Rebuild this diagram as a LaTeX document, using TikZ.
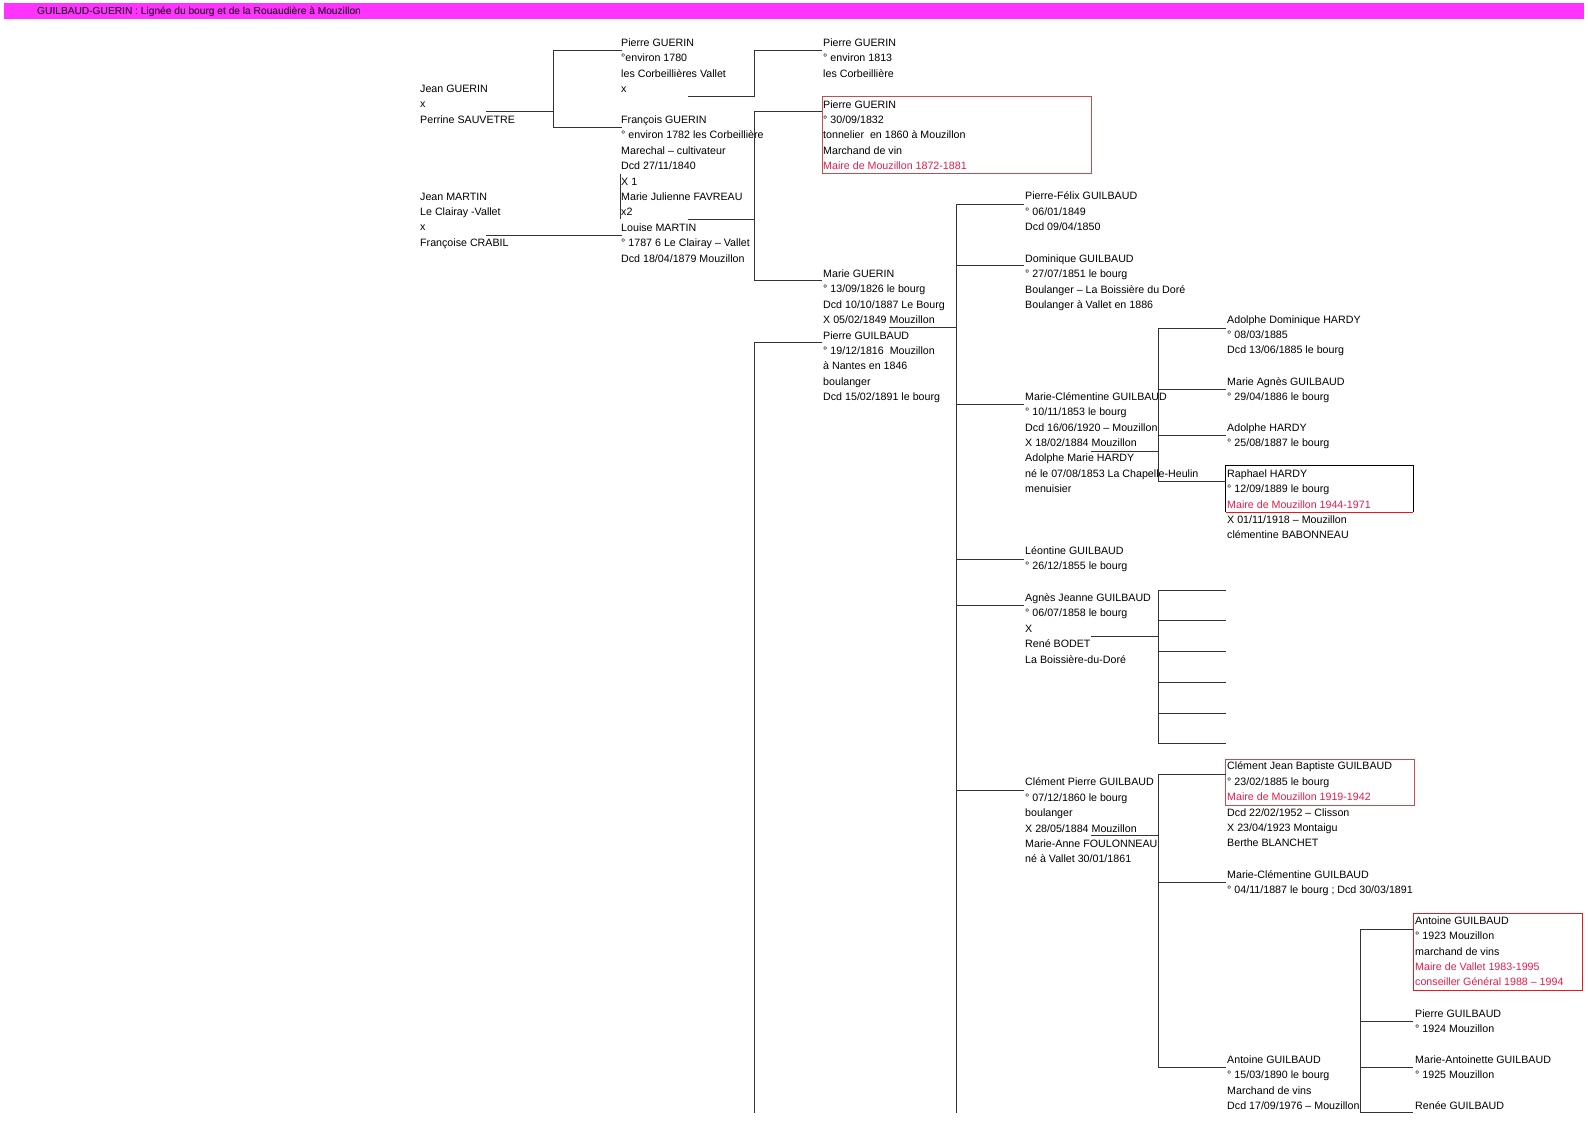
\documentclass[tikz,border=0pt]{standalone}
\usepackage{fontspec}
\setmainfont{Liberation Sans}
\definecolor{mag}{RGB}{255,51,255}
\definecolor{redtxt}{RGB}{225,30,75}
\definecolor{boxred}{RGB}{192,80,80}
\definecolor{brightred}{RGB}{240,20,30}
\newcommand\hst{\rule{0pt}{11pt}}
\newcommand\rt[1]{\textcolor{redtxt}{#1}}
\begin{document}
\begin{tikzpicture}[x=1pt,y=-1pt,
  person/.style={anchor=north west,inner sep=0pt,align=left,font=\fontsize{10.67}{15.4}\selectfont},
  link/.style={draw=black!80,line width=1pt},
  redbox/.style={draw=boxred,line width=1pt},
  brightbox/.style={draw=brightred,line width=1pt}]
\useasboundingbox (0,0) rectangle (1588,1123);
\fill[white] (0,0) rectangle (1588,1123);
% title bar
\fill[mag] (4,3) rectangle (1584,19);
\node[anchor=base west,inner sep=0pt,font=\fontsize{10.2}{12}\selectfont] (title) at (37,15) {GUILBAUD-GUERIN : Lignée du bourg et de la Rouaudière à Mouzillon};

% ---------- generation 1
\node[person] (jg) at (420,81.3) {\hst Jean GUERIN\\x\\Perrine SAUVETRE};
\node[person] (jm) at (420,189) {\hst Jean MARTIN\\Le Clairay -Vallet\\x\\Françoise CRABIL};

% ---------- generation 2
\node[person] (pg1780) at (621,35.3) {\hst Pierre GUERIN\\°environ 1780\\les Corbeillières Vallet\\x};
\node[person] (fg) at (621,112.3) {\hst François GUERIN\\° environ 1782 les Corbeillière\\Marechal – cultivateur\\Dcd 27/11/1840\\X 1\\Marie Julienne FAVREAU\\x2\\Louise MARTIN\\° 1787 6 Le Clairay – Vallet\\Dcd 18/04/1879 Mouzillon};

% ---------- generation 3
\node[person] (pg1813) at (823,35.3) {\hst Pierre GUERIN\\° environ 1813\\les Corbeillière};
\node[person] (pg1832) at (823,97) {\hst Pierre GUERIN\\° 30/09/1832\\tonnelier\ \ en 1860 à Mouzillon\\Marchand de vin\\\rt{Maire de Mouzillon 1872-1881}};
\draw[redbox] (822,96.7) rectangle (1091.7,174);
\node[person] (mg) at (823,266.3) {\hst Marie GUERIN\\° 13/09/1826 le bourg\\Dcd 10/10/1887 Le Bourg\\X 05/02/1849 Mouzillon\\Pierre GUILBAUD\\° 19/12/1816\ \ Mouzillon\\à Nantes en 1846\\boulanger\\Dcd 15/02/1891 le bourg};

% ---------- generation 4
\node[person] (pfg) at (1025,188.7) {\hst Pierre-Félix GUILBAUD\\° 06/01/1849\\Dcd 09/04/1850};
\node[person] (dg) at (1025,251.3) {\hst Dominique GUILBAUD\\° 27/07/1851 le bourg\\Boulanger – La Boissière du Doré\\Boulanger à Vallet en 1886};
\node[person] (mcg) at (1025,389) {\hst Marie-Clémentine GUILBAUD\\° 10/11/1853 le bourg\\Dcd 16/06/1920 – Mouzillon\\X 18/02/1884 Mouzillon\\Adolphe Marie HARDY\\né le 07/08/1853 La Chapelle-Heulin\\menuisier};
\node[person] (lg) at (1025,543) {\hst Léontine GUILBAUD\\° 26/12/1855 le bourg};
\node[person] (ajg) at (1025,590.3) {\hst Agnès Jeanne GUILBAUD\\° 06/07/1858 le bourg\\X\\René BODET\\La Boissière-du-Doré};
\node[person] (cpg) at (1025,774.7) {\hst Clément Pierre GUILBAUD\\° 07/12/1860 le bourg\\boulanger\\X 28/05/1884 Mouzillon\\Marie-Anne FOULONNEAU\\né à Vallet 30/01/1861};

% ---------- generation 5
\node[person] (adh) at (1227,312) {\hst Adolphe Dominique HARDY\\° 08/03/1885\\Dcd 13/06/1885 le bourg};
\node[person] (mag) at (1227,374) {\hst Marie Agnès GUILBAUD\\° 29/04/1886 le bourg};
\node[person] (ah) at (1227,420) {\hst Adolphe HARDY\\° 25/08/1887 le bourg};
\node[person] (rh) at (1227,466) {\hst Raphael HARDY\\° 12/09/1889 le bourg\\\rt{Maire de Mouzillon 1944-1971}\\X 01/11/1918 – Mouzillon\\clémentine BABONNEAU};
\draw[line width=1pt,black] (1225.7,512.3) -- (1225.7,465.7) -- (1413.3,465.7) -- (1413.3,512.3);
\draw[line width=1pt,brightred] (1225.7,512.3) -- (1413.3,512.3);
\node[person] (cjb) at (1227,758.7) {\hst Clément Jean Baptiste GUILBAUD\\° 23/02/1885 le bourg\\\rt{Maire de Mouzillon 1919-1942}\\Dcd 22/02/1952 – Clisson\\X 23/04/1923 Montaigu\\Berthe BLANCHET};
\draw[redbox] (1225.7,759) rectangle (1414.3,805);
\node[person] (mcg2) at (1227,867.3) {\hst Marie-Clémentine GUILBAUD\\° 04/11/1887 le bourg ; Dcd 30/03/1891};
\node[person] (ag1890) at (1227,1052.3) {\hst Antoine GUILBAUD\\° 15/03/1890 le bourg\\Marchand de vins\\Dcd 17/09/1976 – Mouzillon};

% ---------- generation 6
\node[person] (ag1923) at (1415,913) {\hst Antoine GUILBAUD\\° 1923 Mouzillon\\marchand de vins\\\rt{Maire de Vallet 1983-1995}\\\rt{conseiller Général 1988 – 1994}};
\draw[brightbox] (1413.3,913.3) rectangle (1582,990);
\node[person] (pg1924) at (1415,1006.3) {\hst Pierre GUILBAUD\\° 1924 Mouzillon};
\node[person] (mag1925) at (1415,1052.3) {\hst Marie-Antoinette GUILBAUD\\° 1925 Mouzillon};
\node[person] (rg) at (1415,1098) {\hst Renée GUILBAUD};

% ---------- connectors: Jean GUERIN x Perrine SAUVETRE
\coordinate (jgM) at (486,111.7);
\coordinate (jgS) at (553,111.7);
\coordinate (jgT) at (553,50.7);
\coordinate (jgB) at (553,127.3);
\coordinate (pg1780L) at (622,50.7);
\coordinate (fgL) at (622,127.3);
\draw[link] (jgM) -- (jgS);
\draw[link] (pg1780L) -- (jgT) -- (jgB) -- (fgL);

% Jean MARTIN x Françoise CRABIL
\coordinate (jmM) at (486,235.7);
\coordinate (lmL) at (622,235.7);
\draw[link] (jmM) -- (lmL);

% Pierre GUERIN (1780) -> Pierre GUERIN (1813)
\coordinate (p80M) at (687.7,96.3);
\coordinate (p80S) at (754.3,96.3);
\coordinate (p80T) at (754.3,50.7);
\coordinate (p13L) at (822,50.7);
\draw[link] (p80M) -- (p80S) -- (p80T) -- (p13L);

% François GUERIN -> children
\coordinate (fgX) at (620,174);
\coordinate (fgY) at (620,219.3);
\draw[link] (fgX) -- (fgY);
\coordinate (fgM) at (687.7,220);
\coordinate (fgS) at (754.3,220);
\coordinate (fgT) at (754.3,111.7);
\coordinate (fgB) at (754.3,280.7);
\coordinate (p32L) at (822,111.7);
\coordinate (mgL) at (822,280.7);
\draw[link] (fgM) -- (fgS);
\draw[link] (p32L) -- (fgT) -- (fgB) -- (mgL);

% Pierre GUILBAUD ancestry line
\coordinate (pgbL) at (822,342.7);
\coordinate (pgbS) at (754.3,342.7);
\coordinate (pgbB) at (754.3,1113);
\draw[link] (pgbL) -- (pgbS) -- (pgbB);

% Marie GUERIN x Pierre GUILBAUD -> children
\coordinate (mgM) at (889.3,327.7);
\coordinate (mgS) at (956.7,327.7);
\coordinate (mgT) at (956.7,204.3);
\coordinate (mgB) at (956.7,1113);
\draw[link] (mgM) -- (mgS);
\draw[link] (mgT) -- (mgB);
\foreach \yy/\nm in {204.3/pfgL,265.7/dgL,404.3/mcgL,559/lgL,605/ajgL,790/cpgL}{
  \coordinate (\nm) at (1024,\yy);
  \draw[link] (956.7,\yy) coordinate (\nm S) -- (\nm);
}

% Marie-Clementine x Adolphe HARDY -> children
\coordinate (mcM) at (1090.7,451);
\coordinate (mcS) at (1158.3,451);
\coordinate (mcT) at (1158.3,328.3);
\coordinate (mcB) at (1158.3,481.7);
\draw[link] (mcM) -- (mcS);
\draw[link] (mcT) -- (mcB);
\foreach \yy/\nm in {328.3/adhL,389.3/magL,435.3/ahL,481.7/rhL}{
  \coordinate (\nm) at (1225.7,\yy);
  \draw[link] (1158.3,\yy) coordinate (\nm S) -- (\nm);
}

% Agnes Jeanne x Rene BODET -> children (unnamed)
\coordinate (ajM) at (1090.7,636);
\coordinate (ajS) at (1158.3,636);
\coordinate (ajT) at (1158.3,590);
\coordinate (ajB) at (1158.3,743.7);
\draw[link] (ajM) -- (ajS);
\draw[link] (ajT) -- (ajB);
\foreach \yy/\nm in {590/b1,620.3/b2,651/b3,682.3/b4,713/b5,743.7/b6}{
  \coordinate (\nm) at (1225.7,\yy);
  \draw[link] (1158.3,\yy) coordinate (\nm S) -- (\nm);
}

% Clement Pierre x Marie-Anne FOULONNEAU -> children
\coordinate (cpM) at (1090.7,835.7);
\coordinate (cpS) at (1158.3,835.7);
\coordinate (cpT) at (1158.3,774.3);
\coordinate (cpB) at (1158.3,1067.3);
\draw[link] (cpM) -- (cpS);
\draw[link] (cpT) -- (cpB);
\foreach \yy/\nm in {774.3/cjbL,882.3/mcg2L,1067.3/ag90L}{
  \coordinate (\nm) at (1225.7,\yy);
  \draw[link] (1158.3,\yy) coordinate (\nm S) -- (\nm);
}

% Antoine GUILBAUD (1890) -> children
\coordinate (agT) at (1360,929);
\coordinate (agB) at (1360,1112.3);
\draw[link] (agT) -- (agB);
\foreach \yy/\nm in {929/ag23L,1021.7/pg24L,1067/ma25L,1112.3/rgL}{
  \coordinate (\nm) at (1413.3,\yy);
  \draw[link] (1360,\yy) coordinate (\nm S) -- (\nm);
}
\end{tikzpicture}
\end{document}
